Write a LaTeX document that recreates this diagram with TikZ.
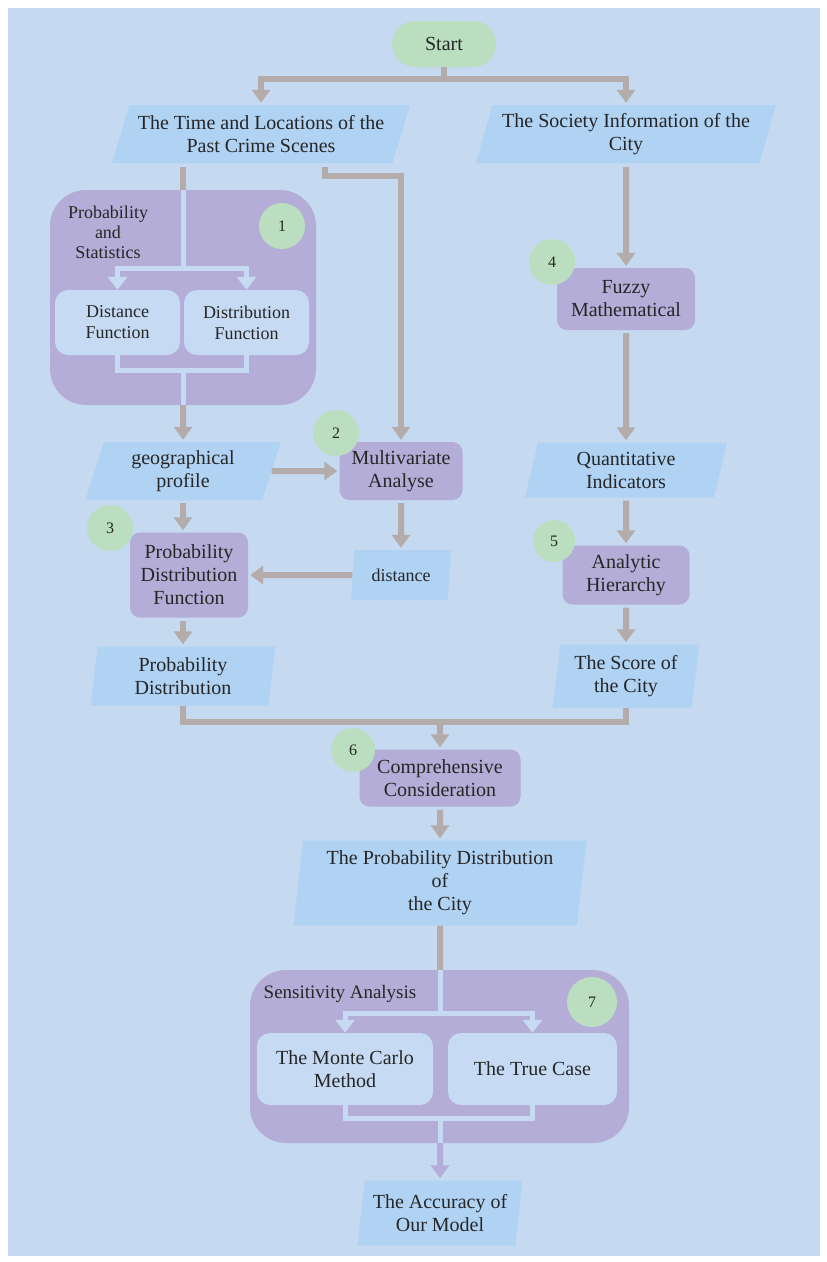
\documentclass[tikz,border=0pt]{standalone}
\usepackage{fontspec}
\setmainfont{Liberation Serif}
\usetikzlibrary{arrows.meta,positioning,shapes.geometric}

\definecolor{bgblue}{RGB}{197,217,241}
\definecolor{ioblue}{RGB}{176,210,243}
\definecolor{procpurple}{RGB}{180,173,215}
\definecolor{stepgreen}{RGB}{187,222,192}
\definecolor{flowgray}{RGB}{180,172,170}
\definecolor{innerblue}{RGB}{198,219,243}

\begin{document}
\begin{tikzpicture}[
  x=1pt, y=-1pt,
  every node/.style={font=\fontsize{20}{23}\selectfont, text=black!85},
  io/.style={trapezium, trapezium left angle=#1, trapezium right angle={180-#1},
    trapezium stretches body, fill=ioblue, align=center, inner sep=2pt},
  io/.default=80,
  proc/.style={fill=procpurple, rounded corners=10pt, align=center, inner sep=2pt},
  sub/.style={fill=innerblue, rounded corners=13pt, align=center, inner sep=2pt},
  group/.style={fill=procpurple, rounded corners=36pt},
  num/.style={circle, fill=stepgreen, minimum size=46pt, inner sep=0pt,
    font=\fontsize{16}{18}\selectfont},
  line/.style={draw=flowgray, line width=6pt},
  flow/.style={line, -{Triangle[width=18pt,length=13pt]}, shorten >=2pt},
  inner/.style={draw=innerblue, line width=5pt},
  innerflow/.style={inner, -{Triangle[width=19pt,length=13pt]}}
]

% page and background
\useasboundingbox (0,0) rectangle (827,1262);
\fill[white] (0,0) rectangle (827,1262);
\fill[bgblue] (8,8) rectangle (820,1256);

% top
\node[proc, fill=stepgreen, rounded corners=23pt, minimum width=104pt,
  minimum height=46pt] (start) at (444,44) {Start};
\node[io=67, minimum width=298pt, minimum height=58pt] (crime) at (261,134)
  {The Time and Locations of the\\Past Crime Scenes};
\node[io=70, minimum width=300pt, minimum height=58pt] (society) at (626,134)
  {The Society Information of the\\City};

% probability and statistics block
\node[group, minimum width=266pt, minimum height=215pt] (grp1) at (183,297.5) {};
\node[align=center, font=\fontsize{18}{20}\selectfont] (pslbl) at (108,232)
  {Probability\\and\\Statistics};
\node[num] (n1) at (282,226) {1};
\node[sub, minimum width=125pt, minimum height=65pt,
  font=\fontsize{18}{21}\selectfont] (distf) at (117.5,322.5) {Distance\\Function};
\node[sub, minimum width=125pt, minimum height=65pt,
  font=\fontsize{18}{21}\selectfont] (distrf) at (246.5,322.5) {Distribution\\Function};
\coordinate (split1) at (183,268);
\coordinate (join1) at (183,370);

% left column
\node[io=68, minimum width=195pt, minimum height=58pt] (geo) at (183,471)
  {geographical\\profile};
\node[proc, minimum width=123pt, minimum height=58pt] (mva) at (401,471)
  {Multivariate\\Analyse};
\node[num] (n2) at (336,433) {2};
\node[io=79, minimum width=100pt, minimum height=50pt,
  font=\fontsize{18}{21}\selectfont] (dist) at (401,575) {distance};
\node[proc, minimum width=118pt, minimum height=85pt] (pdf) at (189,575)
  {Probability\\Distribution\\Function};
\node[num] (n3) at (110,528) {3};
\node[io, minimum width=185pt, minimum height=59pt] (pd) at (183,676)
  {Probability\\Distribution};

% right column
\node[proc, minimum width=138pt, minimum height=62pt] (fuzzy) at (626,299)
  {Fuzzy\\Mathematical};
\node[num] (n4) at (552,262) {4};
\node[io=72, minimum width=202pt, minimum height=55pt] (qi) at (626,470)
  {Quantitative\\Indicators};
\node[proc, minimum width=127pt, minimum height=59pt] (ahp) at (626,575)
  {Analytic\\Hierarchy};
\node[num, minimum size=42pt] (n5) at (554,541) {5};
\node[io, minimum width=147pt, minimum height=63pt] (score) at (626,676)
  {The Score of\\the City};

% bottom
\coordinate (merge) at (440,722);
\node[proc, minimum width=161pt, minimum height=57pt] (cc) at (440,778)
  {Comprehensive\\Consideration};
\node[num, minimum size=44pt] (n6) at (353,750) {6};
\node[io=82, minimum width=293pt, minimum height=85pt] (pdc) at (440,883)
  {The Probability Distribution\\of\\the City};

% sensitivity analysis block
\node[group, minimum width=379pt, minimum height=173pt] (grp7) at (439.5,1056.5) {};
\node[font=\fontsize{19}{22}\selectfont] (salbl) at (340,994) {Sensitivity Analysis};
\node[num, minimum size=50pt] (n7) at (592,1002) {7};
\node[sub, minimum width=176pt, minimum height=72pt] (mc) at (345,1069)
  {The Monte Carlo\\Method};
\node[sub, minimum width=169pt, minimum height=72pt] (tc) at (532.5,1069)
  {The True Case};
\coordinate (split7) at (440,1013);
\coordinate (join7) at (440,1118);
\node[io, minimum width=165pt, minimum height=65pt] (acc) at (440,1213)
  {The Accuracy of\\Our Model};

% connectors
\draw[line] (start.south) -- ++(0,12) coordinate (fork);
\draw[flow] (fork) -| (crime.north);
\draw[flow] (fork) -| (society.north);

\draw[line, shorten <=4pt] (crime.south -| split1) -- (grp1.north -| split1);
\draw[flow] (grp1.south -| join1) -- (geo.north);
\draw[inner] (grp1.north -| split1) -- (split1);
\draw[innerflow] (split1) -| (distf.north);
\draw[innerflow] (split1) -| (distrf.north);
\draw[inner] (distf.south) |- (join1) -| (distrf.south);
\draw[inner] (join1) -- (grp1.south -| join1);

\draw[flow, shorten <=4pt] ([xshift=64pt]crime.south) -- ++(0,13) -| (mva.north);
\draw[flow] (geo.east) -- (mva.west);
\draw[flow, shorten <=3pt] (mva.south) -- (dist.north);
\draw[flow] (dist.west) -- (pdf.east);
\draw[flow, shorten <=3pt] (geo.south) -- (geo.south |- pdf.north);
\draw[flow, shorten <=3pt] (pdf.south -| pd.north) -- (pd.north);

\draw[flow, shorten <=4pt] (society.south) -- (fuzzy.north);
\draw[flow, shorten <=3pt] (fuzzy.south) -- (qi.north);
\draw[flow, shorten <=3pt] (qi.south) -- (ahp.north);
\draw[flow, shorten <=3pt] (ahp.south) -- (score.north);

\draw[line] (pd.south) |- (merge) -| (score.south);
\draw[flow] (merge) -- (cc.north);
\draw[flow, shorten <=3pt] (cc.south) -- (pdc.north);

\draw[line] (pdc.south) -- (grp7.north -| split7);
\draw[inner] (grp7.north -| split7) -- (split7);
\draw[innerflow] (split7) -| (mc.north);
\draw[innerflow] (split7) -| (tc.north);
\draw[inner] (mc.south) |- (join7) -| (tc.south);
\draw[inner] (join7) -- (grp7.south -| join7);
\draw[flow, draw=procpurple] (grp7.south -| join7) -- (acc.north);

\end{tikzpicture}
\end{document}
